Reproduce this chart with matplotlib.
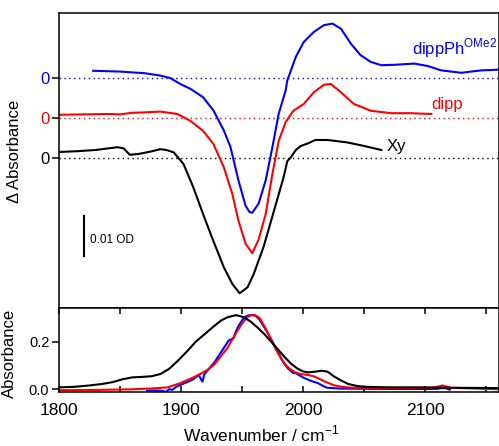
import numpy as np
import matplotlib
matplotlib.use("Agg")
import matplotlib.pyplot as plt
from matplotlib.ticker import MultipleLocator

plt.rcParams['font.family'] = ['Liberation Sans', 'DejaVu Sans']

# difference spectra (delta absorbance, each relative to its own zero line)
xy_wn = [1800, 1815, 1830, 1848, 1853, 1858, 1865, 1875, 1883, 1888, 1894, 1902, 1910,
         1918, 1926.5, 1935, 1942, 1948, 1954.5, 1959.5, 1967.5, 1976, 1984, 1987, 1990,
         1994, 1998, 2003.5, 2010, 2020, 2028, 2036, 2050, 2064]
xy_dA = [0.0015, 0.0017, 0.0020, 0.0027, 0.0024, 0.0008, 0.0010, 0.0016, 0.0022, 0.0020,
         0.0014, -0.0015, -0.0073, -0.0140, -0.0208, -0.0273, -0.0315, -0.0338, -0.0323,
         -0.0290, -0.0223, -0.0133, -0.0048, -0.0008, 0.0002, 0.0020, 0.0030, 0.0036,
         0.0045, 0.0045, 0.0042, 0.0039, 0.0030, 0.0020]

dipp_wn = [1800, 1820, 1840, 1850, 1860, 1870, 1883, 1897, 1907.5, 1918, 1926.5, 1935,
           1942, 1947, 1953, 1958.3, 1963.5, 1969.3, 1974.8, 1980, 1985.7, 1992, 2000.5,
           2008.7, 2017, 2022.7, 2031, 2041.6, 2055.5, 2072, 2088, 2105]
dipp_dA = [0.0008, 0.0009, 0.0010, 0.0009, 0.0013, 0.0014, 0.0016, 0.0010, -0.0007,
           -0.0032, -0.0065, -0.0123, -0.0190, -0.0257, -0.0315, -0.0338, -0.0304,
           -0.0240, -0.0140, -0.0057, -0.0010, 0.0018, 0.0035, 0.0064, 0.0083, 0.0085,
           0.0064, 0.0035, 0.0018, 0.0012, 0.0012, 0.0010]

ome_wn = [1828, 1850, 1870, 1883, 1891, 1900, 1907.6, 1918, 1926.5, 1935, 1940.5, 1947,
          1952.8, 1956, 1958.3, 1963.5, 1969.3, 1974.8, 1980, 1985.7, 1987, 1990, 1994,
          2000.5, 2008.7, 2017, 2024, 2031, 2039, 2047, 2055.5, 2064, 2075, 2091, 2102,
          2113, 2129.5, 2146, 2162]
ome_dA = [0.0018, 0.0016, 0.0012, 0.0006, 0.0000, -0.0016, -0.0027, -0.0048, -0.0081,
          -0.0131, -0.0173, -0.0256, -0.0319, -0.0335, -0.0337, -0.0314, -0.0256,
          -0.0173, -0.0089, -0.0031, -0.0006, 0.0019, 0.0053, 0.0090, 0.0115, 0.0132,
          0.0136, 0.0123, 0.0086, 0.0057, 0.0040, 0.0032, 0.0033, 0.0036, 0.0030,
          0.0019, 0.0013, 0.0019, 0.0021]

# absorbance spectra
xy_abs_wn = [1800, 1812, 1825, 1835, 1844, 1852, 1860, 1868, 1876, 1883, 1890, 1897, 1905,
             1912, 1920, 1927, 1933, 1938, 1945, 1951, 1957, 1963, 1968, 1973, 1979, 1984,
             1990, 1995, 2000, 2004, 2010, 2015, 2020, 2025, 2031, 2037, 2045, 2053, 2070,
             2090, 2107, 2130, 2160]
xy_abs = [0.008, 0.010, 0.016, 0.022, 0.030, 0.042, 0.050, 0.052, 0.055, 0.064, 0.085,
          0.118, 0.160, 0.200, 0.235, 0.266, 0.290, 0.303, 0.312, 0.304, 0.285, 0.258,
          0.233, 0.205, 0.170, 0.140, 0.108, 0.088, 0.075, 0.071, 0.074, 0.078, 0.074,
          0.055, 0.037, 0.022, 0.013, 0.010, 0.008, 0.008, 0.007, 0.006, 0.005]

dipp_abs_wn = [1800, 1830, 1861, 1875, 1889, 1899, 1908, 1916, 1922, 1927, 1932, 1938,
               1942, 1946, 1950, 1954, 1957, 1960, 1963, 1965, 1969, 1973, 1977, 1981.6,
               1986, 1990, 1994, 1998, 2004, 2009, 2014, 2019, 2025, 2032, 2039, 2060,
               2090, 2107, 2111, 2114, 2117, 2121, 2140, 2160]
dipp_abs = [-0.004, -0.003, 0.000, 0.003, 0.008, 0.025, 0.045, 0.065, 0.083, 0.103,
            0.135, 0.174, 0.210, 0.245, 0.277, 0.302, 0.312, 0.313, 0.305, 0.295, 0.258,
            0.217, 0.175, 0.132, 0.100, 0.082, 0.070, 0.064, 0.060, 0.054, 0.042, 0.030,
            0.017, 0.010, 0.007, 0.006, 0.006, 0.007, 0.012, 0.016, 0.012, 0.006, 0.003,
            0.000]

ome_abs_wn = [1872, 1876, 1884, 1888, 1890, 1893, 1896, 1900, 1905, 1910, 1914.5, 1916,
              1917.5, 1919, 1921, 1927, 1932, 1935, 1939, 1941, 1943, 1945, 1947, 1951.5,
              1955, 1958, 1961, 1964, 1968, 1972, 1976, 1980, 1984, 1988, 1992, 1994, 1997,
              2001, 2006, 2012, 2017, 2020, 2030, 2050, 2080, 2100, 2110, 2114, 2117, 2120]
ome_abs = [-0.006, -0.005, -0.006, -0.011, 0.000, -0.002, 0.010, 0.020, 0.030, 0.042,
           0.060, 0.045, 0.032, 0.062, 0.075, 0.111, 0.150, 0.174, 0.205, 0.210, 0.215,
           0.245, 0.266, 0.302, 0.311, 0.312, 0.309, 0.295, 0.262, 0.228, 0.189, 0.150,
           0.111, 0.085, 0.068, 0.068, 0.058, 0.047, 0.036, 0.026, 0.012, 0.006, 0.003,
           0.002, 0.001, 0.001, 0.002, 0.005, 0.004, -0.002]

names = ['Xy', 'dipp', 'dippPh$^{\\mathregular{OMe2}}$']
colors = ['black', 'red', 'blue']
offsets = [0.0, 0.01, 0.02]

fig = plt.figure(figsize=(4.99, 4.46), dpi=100)
ax1 = fig.add_axes([0.1182, 0.3094, 0.8808, 0.6615])
ax2 = fig.add_axes([0.1182, 0.1211, 0.8808, 0.1883])

top_data = [(xy_wn, xy_dA), (dipp_wn, dipp_dA), (ome_wn, ome_dA)]
for (wn, dA), c, off in zip(top_data, colors, offsets):
    ax1.axhline(off, color=c, ls=(0, (1, 2.5)), lw=1.0)
    ax1.plot(wn, np.array(dA) + off, color=c, lw=1.5)

ax1.set_xlim(1800, 2160)
ax1.set_ylim(-0.0375, 0.03625)
ax1.set_xticks([])
ax1.set_yticks(offsets)
ax1.set_yticklabels(['0', '0', '0'], fontsize=12)
for lab, c in zip(ax1.get_yticklabels(), colors):
    lab.set_color(c)
ax1.tick_params(axis='y', direction='out', length=5, width=1.1, pad=2)
ax1.set_ylabel('\u0394 Absorbance', fontsize=12)
ax1.yaxis.set_label_coords(-0.084, 0.53)

ax1.text(2068, 0.0028, 'Xy', color='black', fontsize=12, va='center')
ax1.text(2105, 0.01325, 'dipp', color='red', fontsize=12, va='center')
ax1.text(2089, 0.0275, names[2], color='blue', fontsize=12, va='center')

# scale bar
ax1.plot([1820.5, 1820.5], [-0.0146, -0.0246], color='black', lw=1.5)
ax1.text(1825.5, -0.0205, '0.01 OD', fontsize=8.5, va='center')

bottom_data = [(xy_abs_wn, xy_abs), (dipp_abs_wn, dipp_abs), (ome_abs_wn, ome_abs)]
for (wn, a), c in zip(bottom_data[::-1], colors[::-1]):
    ax2.plot(wn, a, color=c, lw=1.5)

ax2.set_xlim(1800, 2160)
ax2.set_ylim(-0.0115, 0.342)
ax2.set_yticks([0.0, 0.2])
ax2.set_yticklabels(['0.0', '0.2'], fontsize=10.5)
ax2.xaxis.set_major_locator(MultipleLocator(100))
ax2.xaxis.set_minor_locator(MultipleLocator(50))
ax2.tick_params(axis='x', which='both', direction='in', top=True, length=4, width=1.1,
                labelsize=12.5, pad=8)
ax2.tick_params(axis='y', direction='out', length=5, width=1.1, pad=2)
ax2.set_ylabel('Absorbance', fontsize=12)
ax2.yaxis.set_label_coords(-0.096, 0.46)
ax2.set_xlabel('Wavenumber / cm$^{\\mathregular{-1}}$', fontsize=12.5, va='center')
ax2.xaxis.set_label_coords(0.46, -0.5)

for ax in (ax1, ax2):
    for s in ax.spines.values():
        s.set_linewidth(1.1)

fig.savefig('out.png', dpi=100)
